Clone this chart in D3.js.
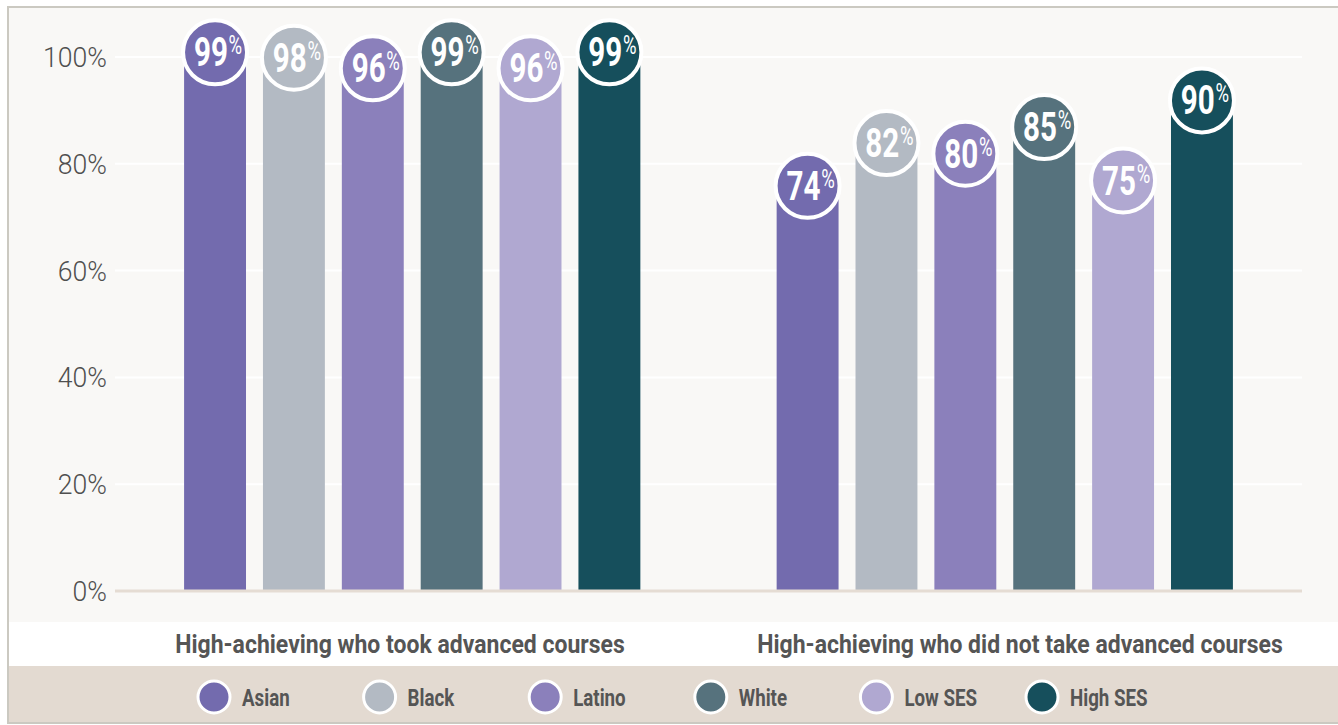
<!DOCTYPE html>
<html>
<head>
<meta charset="utf-8">
<script src="https://cdn.jsdelivr.net/npm/d3@7"></script>
<style>
  html, body { margin: 0; padding: 0; background: #ffffff; }
  svg { display: block; font-family: Roboto, "Liberation Sans", sans-serif; }
</style>
</head>
<body>
<svg id="chart"></svg>
<script>
// --- data ---
const groups = ["High-achieving who took advanced courses", "High-achieving who did not take advanced courses"];
const series = ["Asian", "Black", "Latino", "White", "Low SES", "High SES"];
const tookValues = [99, 98, 96, 99, 96, 99];
const notTookValues = [74, 82, 80, 85, 75, 90];
const yTicks = [0, 20, 40, 60, 80, 100];
const seriesColors = ["#736bae", "#b3bac3", "#8b80bb", "#56727d", "#b0a8d1", "#164f5c"];

const valuesByGroup = [tookValues, notTookValues];
const data = groups.map((g, gi) => ({
  group: g,
  bars: series.map((s, si) => ({ group: g, key: s, value: valuesByGroup[gi][si] }))
}));

// no condensed face installed -> squeeze horizontally around the anchor point
const squeeze = (x, y, k) => `translate(${x},${y}) scale(${k},1)`;

// --- layout ---
const W = 1338, H = 725;
const plot = { left: 115, right: 1302, top: 57, bottom: 591 };

const svg = d3.select("#chart").attr("width", W).attr("height", H);

// frame + bands
svg.append("rect").attr("x", 8).attr("y", 7).attr("width", W).attr("height", 716)
  .attr("fill", "#f9f8f6").attr("stroke", "#cbc9c1").attr("stroke-width", 2);
svg.append("rect").attr("x", 9).attr("y", 622).attr("width", W).attr("height", 44).attr("fill", "#ffffff");
svg.append("rect").attr("x", 9).attr("y", 666).attr("width", W).attr("height", 56).attr("fill", "#e3dad1");

// scales
const x0 = d3.scaleBand().domain(groups).range([plot.left, plot.right])
  .paddingInner(0.23).paddingOuter(0.1166);
const x1 = d3.scaleBand().domain(series).range([0, x0.bandwidth()]).paddingInner(0.215).paddingOuter(0);
const y = d3.scaleLinear().domain([0, 100]).range([plot.bottom, plot.top]);
const color = d3.scaleOrdinal().domain(series).range(seriesColors);

// grid
svg.append("g").selectAll("line")
  .data(yTicks.filter(t => t > 0))
  .join("line")
  .attr("x1", plot.left).attr("x2", plot.right)
  .attr("y1", d => y(d)).attr("y2", d => y(d))
  .attr("stroke", "#ffffff").attr("stroke-width", 2);

// y axis labels
svg.append("g").selectAll("text")
  .data(yTicks)
  .join("text")
  .attr("transform", d => squeeze(107, y(d) + 10, 0.95))
  .attr("text-anchor", "end")
  .style("font-size", "28px").style("font-weight", "300")
  .style("fill", "#4f4f4f")
  .text(d => d + "%");

// bars
const gGroups = svg.append("g").selectAll("g")
  .data(data)
  .join("g")
  .attr("transform", d => `translate(${x0(d.group)},0)`);

gGroups.selectAll("rect")
  .data(d => d.bars)
  .join("rect")
  .attr("x", d => x1(d.key))
  .attr("y", d => y(d.value))
  .attr("width", x1.bandwidth())
  .attr("height", d => y(0) - y(d.value))
  .attr("fill", d => color(d.key));

// baseline
svg.append("line")
  .attr("x1", plot.left).attr("x2", plot.right)
  .attr("y1", y(0)).attr("y2", y(0))
  .attr("stroke", "#e5dcd3").attr("stroke-width", 3);

// value bubbles, sitting a little above the bar top
const bubble = gGroups.selectAll("g.bubble")
  .data(d => d.bars)
  .join("g")
  .attr("class", "bubble")
  .attr("transform", d => `translate(${x1(d.key) + x1.bandwidth() / 2},${y(d.value) - 10})`);

bubble.append("circle")
  .attr("r", 32)
  .attr("fill", d => color(d.key))
  .attr("stroke", "#ffffff")
  .attr("stroke-width", 4);

const vt = bubble.append("text")
  .attr("transform", squeeze(3, 14, 0.74))
  .attr("text-anchor", "middle")
  .style("fill", "#ffffff");
vt.append("tspan")
  .style("font-size", "40px").style("font-weight", "700")
  .text(d => d.value);
vt.append("tspan")
  .attr("dx", 1).attr("dy", -12)
  .style("font-size", "25px")
  .text("%");

// category labels
const labelX = d3.scalePoint().domain(groups).range([400, 1020]);
svg.append("g").selectAll("text")
  .data(groups)
  .join("text")
  .attr("transform", d => squeeze(labelX(d), 653, 0.92))
  .attr("text-anchor", "middle")
  .style("font-size", "25px").style("font-weight", "700")
  .style("fill", "#555555")
  .text(d => d);

// legend
const lx = d3.scalePoint().domain(series).range([214, 1042]);
const leg = svg.append("g").selectAll("g")
  .data(series)
  .join("g")
  .attr("transform", d => `translate(${lx(d)},697)`);
leg.append("circle")
  .attr("r", 16)
  .attr("fill", d => color(d))
  .attr("stroke", "#ffffff").attr("stroke-width", 3);
leg.append("text")
  .attr("transform", squeeze(28, 9, 0.78))
  .style("font-size", "24px").style("font-weight", "700")
  .style("fill", "#555555")
  .text(d => d);
</script>
</body>
</html>
